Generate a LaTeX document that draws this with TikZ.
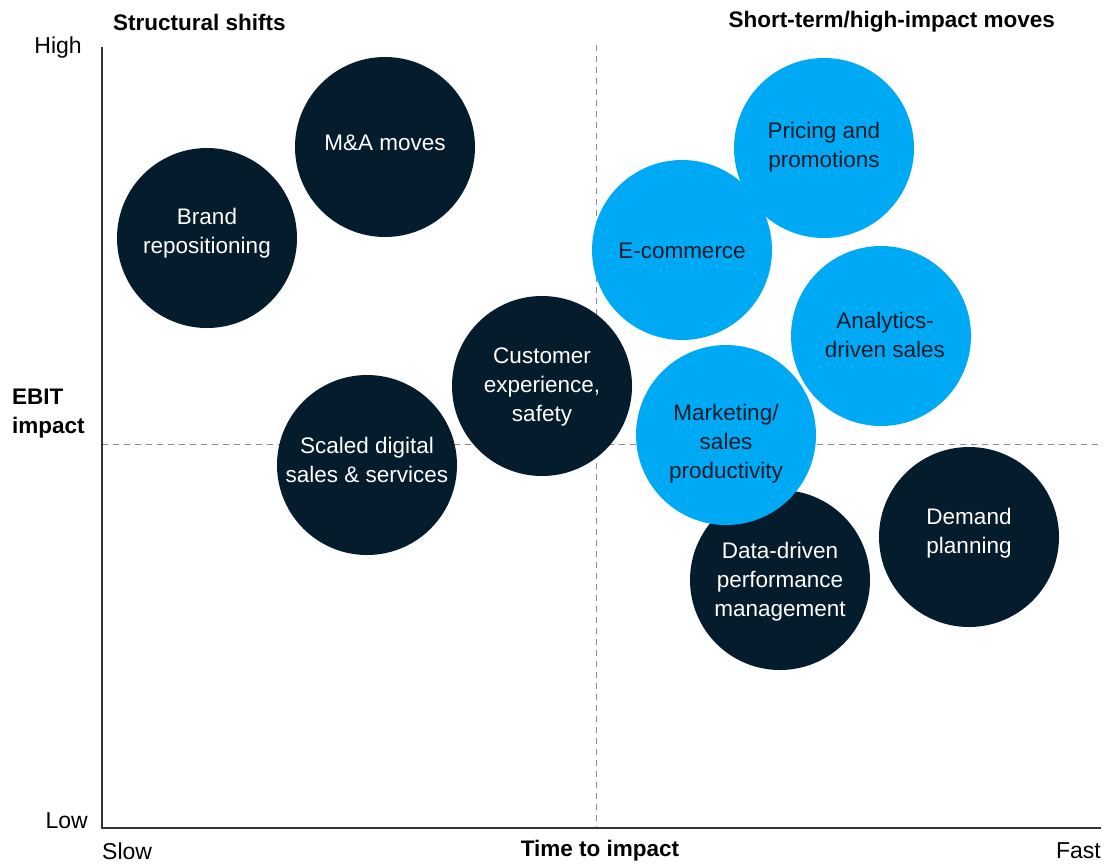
\documentclass[tikz,border=0pt]{standalone}
\usepackage{fontspec}
\setmainfont{Liberation Sans}
\definecolor{navy}{HTML}{051C2C}
\definecolor{sky}{HTML}{00A9F4}
\definecolor{axisgray}{HTML}{333333}
\definecolor{dashgray}{HTML}{8C8C8C}
\begin{document}
\begin{tikzpicture}[x=1pt,y=-1pt,
  darkbub/.style={circle,fill=navy,minimum size=180pt,inner sep=0pt},
  lightbub/.style={circle,fill=sky,minimum size=180pt,inner sep=0pt},
  darktext/.style={text=white,align=center,inner sep=0pt,font=\fontsize{22.5}{29}\selectfont},
  lighttext/.style={text=navy,align=center,inner sep=0pt,font=\fontsize{22.5}{29}\selectfont},
  axlabel/.style={font=\fontsize{23}{28}\selectfont,text=black,inner sep=0pt},
  boldlabel/.style={font=\fontsize{22.5}{29}\selectfont\bfseries,text=black,inner sep=0pt,align=left},
  axisline/.style={draw=axisgray,line width=1.3pt},
  dashline/.style={draw=dashgray,line width=0.9pt,dash pattern=on 6pt off 5pt}]
\useasboundingbox (0,0) rectangle (1115,863);
% coordinates
\coordinate (origin) at (102,828);
\coordinate (ytop) at (102,47);
\coordinate (xend) at (1101,828);
\coordinate (vtop) at (596,45);
\coordinate (vbot) at (596,828);
\coordinate (hleft) at (102,444);
\coordinate (hright) at (1101,444);
% dashed quadrant lines
\draw[dashline] (vtop) -- (vbot);
\draw[dashline] (hleft) -- (hright);
% bubbles
\node[darkbub] (brand) at (207,238) {};
\node[darkbub] (ma) at (385,147) {};
\node[darkbub] (scaled) at (367,465) {};
\node[darkbub] (cust) at (542,386) {};
\node[darkbub] (data) at (780,580) {};
\node[darkbub] (demand) at (969,537) {};
\node[lightbub] (pricing) at (824,148) {};
\node[lightbub] (ecom) at (682,250) {};
\node[lightbub] (analytics) at (881,336) {};
\node[lightbub] (mkt) at (726,435) {};
% bubble texts
\node[darktext] (brandt) at ([yshift=5pt]brand.center) {Brand\\repositioning};
\node[darktext] (mat) at ([yshift=4pt]ma.center) {M\&A moves};
\node[darktext] (scaledt) at ([yshift=5pt]scaled.center) {Scaled digital\\sales \& services};
\node[darktext] (custt) at ([yshift=-1pt]cust.center) {Customer\\experience,\\safety};
\node[darktext] (datat) at ([yshift=-2pt]data.center) {Data-driven\\performance\\management};
\node[darktext] (demandt) at ([yshift=4pt]demand.center) {Demand\\planning};
\node[lighttext] (pricingt) at ([yshift=1pt]pricing.center) {Pricing and\\promotions};
\node[lighttext] (ecomt) at ([yshift=-1pt]ecom.center) {E-commerce};
\node[lighttext] (analyticst) at ([xshift=4pt,yshift=1.5pt]analytics.center) {Analytics-\\driven sales};
\node[lighttext] (mktt) at ([yshift=-9pt]mkt.center) {Marketing/\\sales\\productivity};
% axes
\draw[axisline] (ytop) -- (origin) -- (xend);
% labels
\node[axlabel,anchor=east] (high) at (82,48) {High};
\node[axlabel,anchor=east] (low) at (88,821) {Low};
\node[boldlabel,anchor=west] (ebit) at (12,414) {EBIT\\impact};
\node[axlabel,anchor=west] (slow) at (102,851) {Slow};
\node[boldlabel] (time) at (600,851) {Time to impact};
\node[axlabel,anchor=east] (fast) at (1101,851) {Fast};
\node[boldlabel,anchor=west] (struct) at (113,22) {Structural shifts};
\node[boldlabel,anchor=east] (short) at (1055,22) {Short-term/high-impact moves};
\end{tikzpicture}
\end{document}
